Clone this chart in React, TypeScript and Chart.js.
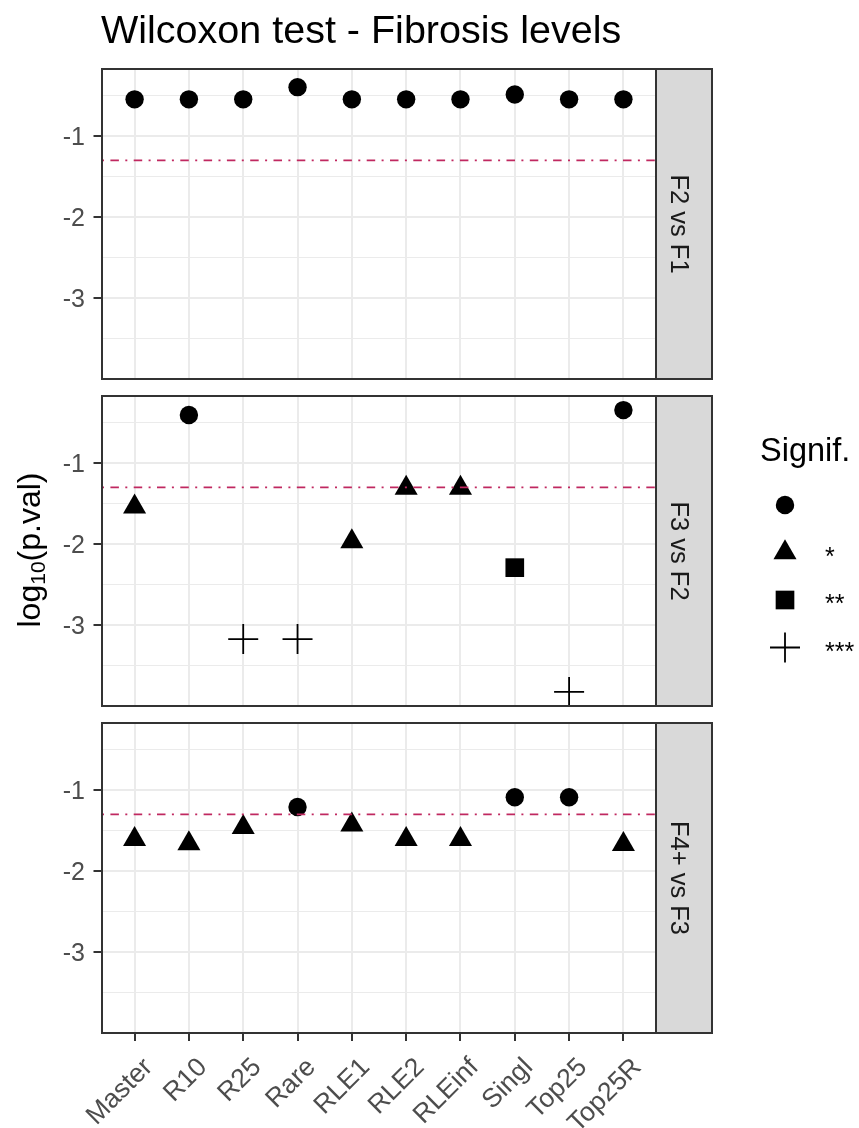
import React, { useEffect, useRef } from 'react';
import { Chart, registerables } from 'chart.js';

Chart.register(...registerables);

// ---- data -------------------------------------------------------------
const CATEGORIES = ['Master', 'R10', 'R25', 'Rare', 'RLE1', 'RLE2', 'RLEinf', 'Singl', 'Top25', 'Top25R'];
const COMPARISONS = ['F2 vs F1', 'F3 vs F2', 'F4+ vs F3'];

// log10(p-value) of the Wilcoxon test, one value per category
const LOG10_P_F2_VS_F1 = [-0.55, -0.55, -0.55, -0.4, -0.55, -0.55, -0.55, -0.49, -0.55, -0.55];
const LOG10_P_F3_VS_F2 = [-1.54, -0.41, -3.17, -3.17, -1.97, -1.31, -1.31, -2.29, -3.82, -0.35];
const LOG10_P_F4_VS_F3 = [-1.61, -1.66, -1.46, -1.21, -1.43, -1.61, -1.61, -1.09, -1.09, -1.67];
const PANEL_VALUES = [LOG10_P_F2_VS_F1, LOG10_P_F3_VS_F2, LOG10_P_F4_VS_F3];

const Y_BREAKS = [-3.5, -3, -2.5, -2, -1.5, -1, -0.5];
const SIGNIF_LABELS = ['', '*', '**', '***'];
const SIGNIF_CUTS = [0.05, 0.01, 0.001];
const ALPHA = 0.05;

// ---- layout & style ---------------------------------------------------
const W = 859;
const H = 1128;
const CANVAS_W = 720;
const PANEL_LEFT = 102;
const PANEL_RIGHT = 656;
const STRIP_RIGHT = 712;
const PANEL_TOPS = [69, 396, 723];
const PANEL_H = 310;
const PAD = 6;
const FONT = "'Liberation Sans', Arial, Helvetica, sans-serif";
const GRID = '#EBEBEB';
const DARK = '#333333';
const AXIS_TEXT = '#4D4D4D';
const REF_LINE = '#C02860';

const SHAPES = [
  { style: 'circle', radius: 9.2 },
  { style: 'triangle', radius: 13.3 },
  { style: 'rect', radius: 13.2 },
  { style: 'cross', radius: 15 },
];
const CROSS_WIDTH = 1.8;

const LEGEND_X = 785;
const LEGEND_Y0 = 505;
const LEGEND_STEP = 47.5;

function signifLevel(v: number): number {
  const p = Math.pow(10, v);
  let level = 0;
  SIGNIF_CUTS.forEach((cut, i) => {
    if (p < cut) level = i + 1;
  });
  return level;
}

const ALL_VALUES = PANEL_VALUES.flat();
const LO = Math.min(...ALL_VALUES);
const HI = Math.max(...ALL_VALUES);
const Y_MIN = LO - 0.05 * (HI - LO);
const Y_MAX = HI + 0.05 * (HI - LO);
const X_MIN = -0.6;
const X_MAX = CATEGORIES.length - 1 + 0.6;
const ALPHA_LOG = Math.log10(ALPHA);

const isMajor = (v: any) => typeof v === 'number' && Number.isInteger(v);

const panelBorder = {
  id: 'panelBorder',
  afterDraw(chart: any) {
    const { ctx, chartArea: a } = chart;
    ctx.save();
    ctx.strokeStyle = DARK;
    ctx.lineWidth = 2;
    ctx.strokeRect(a.left, a.top, a.right - a.left, a.bottom - a.top);
    ctx.restore();
  },
};

function FacetPanel({ index }: { index: number }) {
  const ref = useRef<HTMLCanvasElement | null>(null);
  const isBottom = index === PANEL_VALUES.length - 1;
  const top = PANEL_TOPS[index] - PAD;
  const height = isBottom ? H - top : PANEL_H + 2 * PAD;
  const xAxisH = isBottom ? H - (PANEL_TOPS[index] + PANEL_H) : 0;

  useEffect(() => {
    if (!ref.current) return;
    const values = PANEL_VALUES[index];
    const datasets: any[] = SHAPES.map((shape, level) => ({
      label: SIGNIF_LABELS[level],
      data: values
        .map((v, i) => ({ x: i, y: v }))
        .filter((p) => signifLevel(p.y) === level),
      pointStyle: shape.style,
      pointRadius: shape.radius,
      pointHoverRadius: shape.radius,
      pointBackgroundColor: '#000000',
      pointBorderColor: '#000000',
      pointBorderWidth: shape.style === 'cross' ? CROSS_WIDTH : 0,
      order: 1,
    }));
    datasets.push({
      label: 'p = 0.05',
      data: [
        { x: X_MIN, y: ALPHA_LOG },
        { x: X_MAX, y: ALPHA_LOG },
      ],
      showLine: true,
      borderColor: REF_LINE,
      borderWidth: 1.8,
      borderDash: [2, 6.4, 8.5, 6.4],
      pointRadius: 0,
      order: 0,
    });

    const chart = new Chart(ref.current, {
      type: 'scatter',
      data: { datasets },
      options: {
        responsive: false,
        animation: false,
        events: [],
        layout: {
          autoPadding: false,
          padding: { left: 0, right: CANVAS_W - PANEL_RIGHT, top: PAD, bottom: isBottom ? 0 : PAD },
        },
        plugins: {
          legend: { display: false },
          tooltip: { enabled: false },
        },
        scales: {
          x: {
            type: 'linear',
            min: X_MIN,
            max: X_MAX,
            afterBuildTicks: (s: any) => {
              s.ticks = CATEGORIES.map((_, i) => ({ value: i }));
            },
            afterFit: (s: any) => {
              s.height = xAxisH;
              s.paddingLeft = 0;
              s.paddingRight = 0;
            },
            ticks: {
              display: isBottom,
              autoSkip: false,
              minRotation: 45,
              maxRotation: 45,
              padding: 11,
              labelOffset: 14,
              color: AXIS_TEXT,
              font: { family: FONT, size: 26.5 },
              callback: (v: any) => CATEGORIES[v] ?? '',
            },
            grid: {
              color: GRID,
              lineWidth: 2,
              drawTicks: isBottom,
              tickLength: 8,
              tickColor: DARK,
              tickWidth: 2,
            },
            border: { display: false },
          },
          y: {
            type: 'linear',
            min: Y_MIN,
            max: Y_MAX,
            afterBuildTicks: (s: any) => {
              s.ticks = Y_BREAKS.map((v) => ({ value: v }));
            },
            afterFit: (s: any) => {
              s.width = PANEL_LEFT;
              s.paddingTop = 0;
              s.paddingBottom = 0;
            },
            ticks: {
              padding: 8.5,
              labelOffset: 2,
              color: AXIS_TEXT,
              font: { family: FONT, size: 25 },
              callback: (v: any) => (isMajor(v) ? String(v) : ''),
            },
            grid: {
              color: GRID,
              lineWidth: (c: any) => (isMajor(c.tick && c.tick.value) ? 2 : 1),
              tickLength: 8.5,
              tickColor: (c: any) => (isMajor(c.tick && c.tick.value) ? DARK : 'rgba(0,0,0,0)'),
              tickWidth: 2,
            },
            border: { display: false },
          },
        },
      } as any,
      plugins: [panelBorder],
    });
    return () => chart.destroy();
  }, [index]);

  return (
    <canvas
      ref={ref}
      width={CANVAS_W}
      height={height}
      style={{ position: 'absolute', left: 0, top, width: CANVAS_W, height, display: 'block' }}
    />
  );
}

function LegendKey({ level, cx, cy }: { level: number; cx: number; cy: number }) {
  const { style, radius: r } = SHAPES[level];
  if (style === 'circle') return <circle cx={cx} cy={cy} r={r} fill="#000" />;
  if (style === 'triangle') {
    const h = (r * Math.sqrt(3)) / 2;
    return <polygon points={`${cx},${cy - r} ${cx + h},${cy + r / 2} ${cx - h},${cy + r / 2}`} fill="#000" />;
  }
  if (style === 'rect') {
    const s = r * Math.SQRT1_2;
    return <rect x={cx - s} y={cy - s} width={2 * s} height={2 * s} fill="#000" />;
  }
  return (
    <path
      d={`M${cx - r},${cy}H${cx + r}M${cx},${cy - r}V${cy + r}`}
      stroke="#000"
      strokeWidth={CROSS_WIDTH}
      fill="none"
    />
  );
}

export default function App() {
  const panelsTop = PANEL_TOPS[0];
  const panelsBottom = PANEL_TOPS[PANEL_TOPS.length - 1] + PANEL_H;
  return (
    <div
      style={{
        position: 'absolute',
        left: 0,
        top: 0,
        width: W,
        height: H,
        background: '#ffffff',
        overflow: 'hidden',
      }}
    >
      {PANEL_VALUES.map((_, i) => (
        <FacetPanel key={i} index={i} />
      ))}
      <svg
        width={W}
        height={H}
        style={{ position: 'absolute', left: 0, top: 0, pointerEvents: 'none' }}
        fontFamily={FONT}
      >
        <text x={101} y={42.5} fontSize={39.5} fill="#000">
          Wilcoxon test - Fibrosis levels
        </text>

        <text
          transform={`translate(40, ${(panelsTop + panelsBottom) / 2 - 1}) rotate(-90)`}
          textAnchor="middle"
          fontSize={32}
          fill="#000"
        >
          log
          <tspan fontSize={21} dy={5}>
            10
          </tspan>
          <tspan fontSize={32} dy={-5}>
            (p.val)
          </tspan>
        </text>

        {COMPARISONS.map((label, i) => (
          <g key={label}>
            <rect
              x={PANEL_RIGHT}
              y={PANEL_TOPS[i]}
              width={STRIP_RIGHT - PANEL_RIGHT}
              height={PANEL_H}
              fill="#D9D9D9"
              stroke={DARK}
              strokeWidth={2}
            />
            <text
              transform={`translate(671, ${PANEL_TOPS[i] + PANEL_H / 2}) rotate(90)`}
              textAnchor="middle"
              fontSize={25.5}
              fill="#1A1A1A"
            >
              {label}
            </text>
          </g>
        ))}

        <text x={760} y={461} fontSize={32.5} fill="#000">
          Signif.
        </text>
        {SIGNIF_LABELS.map((label, level) => {
          const cy = LEGEND_Y0 + level * LEGEND_STEP;
          return (
            <g key={level}>
              <LegendKey level={level} cx={LEGEND_X} cy={cy} />
              <text x={825} y={cy + 12} fontSize={25} fill="#000">
                {label}
              </text>
            </g>
          );
        })}
      </svg>
    </div>
  );
}
